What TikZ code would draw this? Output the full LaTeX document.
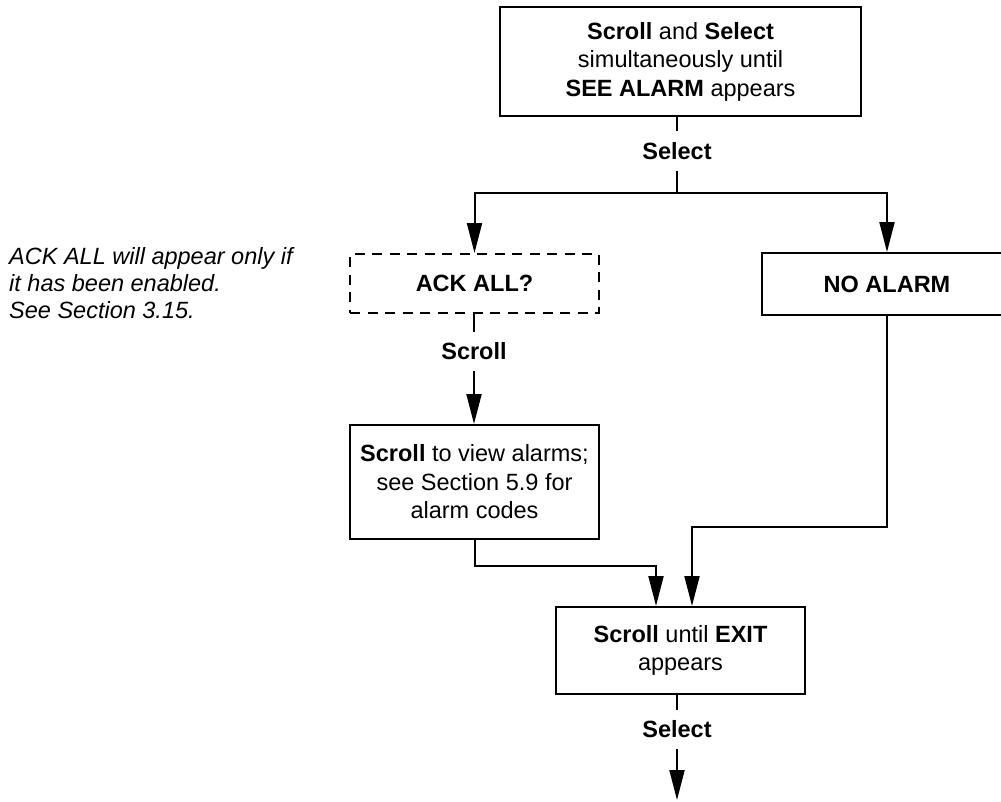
\documentclass[tikz,border=0pt]{standalone}
\usepackage{fontspec}
\setmainfont{Liberation Sans}
\usetikzlibrary{arrows.meta}
\begin{document}
\begin{tikzpicture}[x=1pt,y=-1pt,
  every node/.style={font=\fontsize{23.5}{28.5}\selectfont},
  box/.style={draw,line width=2pt,inner sep=0pt,minimum width=249pt,align=center},
  optbox/.style={box,dashed,dash pattern=on 10pt off 7.5pt},
  lbl/.style={inner sep=11pt,font=\fontsize{23.5}{28.5}\selectfont\bfseries},
  note/.style={inner sep=0pt,align=left,font=\fontsize{23.5}{27}\selectfont\itshape},
  wire/.style={line width=2pt},
  arr/.style={wire,-{Triangle[length=30pt,width=15pt]}}]
\useasboundingbox (0,0) rectangle (1001,801);

% boxes
\node[box,minimum width=361pt,minimum height=109pt] (start) at (680.5,61.5)
  {\textbf{Scroll} and \textbf{Select}\\simultaneously until\\\textbf{SEE ALARM} appears};
\node[optbox,minimum height=59pt] (ack) at (474.5,283.5) {\textbf{ACK ALL?}};
\node[box,minimum width=250pt,minimum height=62pt] (noal) at (887,284) {\textbf{NO ALARM}};
\node[box,minimum height=114pt] (view) at (474.5,482)
  {\textbf{Scroll} to view alarms;\\see Section 5.9 for\\alarm codes};
\node[box,minimum height=87pt] (exit) at (680.5,650.5)
  {\textbf{Scroll} until \textbf{EXIT}\\appears};

% key labels on the connectors
\node[lbl] (selA) at (677,151) {Select};
\node[lbl] (scrA) at (474,351.5) {Scroll};
\node[lbl] (selB) at (677,729.5) {Select};

% side note
\node[note,anchor=north west] (remark) at (9,247)
  {ACK ALL will appear only if\\it has been enabled.\\See Section 3.15.};

\coordinate (split) at (677,193);
\coordinate (out) at (677,800);

% connectors
\draw[wire] (selA.north |- start.south) -- (selA.north);
\draw[wire] (selA.south) -- (split);
\draw[arr] (split) -| (ack.north);
\draw[arr] (split) -| (noal.north);
\draw[wire] (scrA.north |- ack.south) -- (scrA.north);
\draw[arr] (scrA.south) -- (scrA.south |- view.north);
\draw[arr] (view.south) -- ++(0,26) -| ([xshift=-24.5pt]exit.north);
\draw[arr] (noal.south) -- ++(0,211) -| ([xshift=11.5pt]exit.north);
\draw[wire] (selB.north |- exit.south) -- (selB.north);
\draw[arr] (selB.south) -- (out);
\end{tikzpicture}
\end{document}
